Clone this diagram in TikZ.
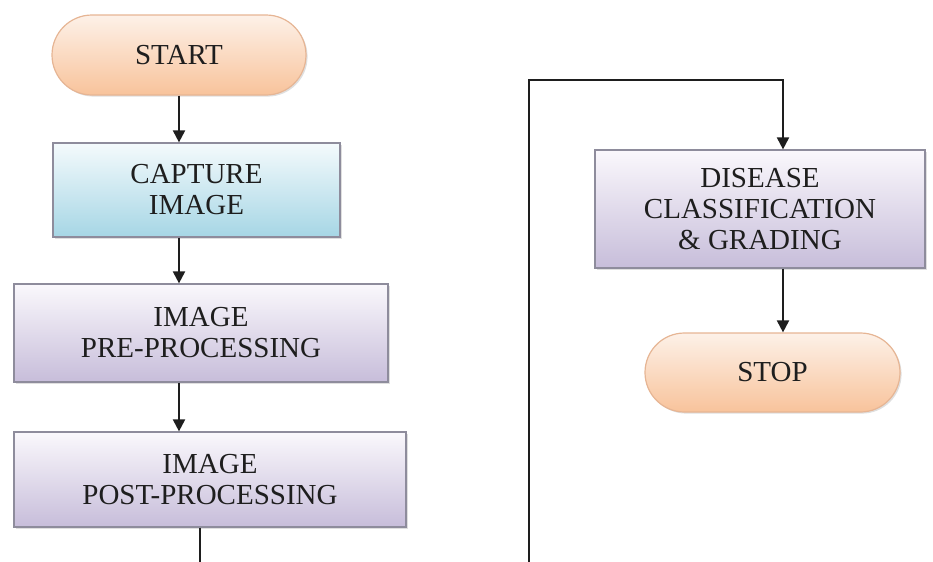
\documentclass[tikz,border=0pt]{standalone}
\usepackage{fontspec}
\setmainfont{Liberation Serif}
\usepackage{tikz}
\usetikzlibrary{arrows.meta,positioning,shapes.misc,shadows}
\definecolor{peachtop}{HTML}{FDF1E8}
\definecolor{peachbot}{HTML}{F8C39B}
\definecolor{peachline}{HTML}{E6B594}
\definecolor{icetop}{HTML}{F4FAFC}
\definecolor{icebot}{HTML}{A6D6E5}
\definecolor{lavtop}{HTML}{FAF8FC}
\definecolor{lavbot}{HTML}{C7BDDA}
\definecolor{frame}{HTML}{8E8C9C}
\definecolor{ink}{HTML}{1E1E1E}
\tikzset{
  box/.style={rectangle, draw=frame, line width=0.6pt, align=center, inner sep=0pt,
              font=\fontsize{14.5}{15.5}\selectfont, text=ink,
              drop shadow={opacity=0.25, shadow xshift=0.8pt, shadow yshift=-0.8pt}},
  termbox/.style={box, rounded rectangle, draw=peachline, top color=peachtop, bottom color=peachbot},
  capbox/.style={box, top color=icetop, bottom color=icebot},
  procbox/.style={box, top color=lavtop, bottom color=lavbot},
  flow/.style={-{Triangle[length=6pt,width=6pt]}, draw=ink, line width=1pt},
  wire/.style={draw=ink, line width=1pt}
}
\begin{document}
\begin{tikzpicture}[x=0.5pt, y=-0.5pt]
  \useasboundingbox (0,0) rectangle (933,562);
  % left column
  \node[termbox, minimum width=127pt, minimum height=40pt] (start) at (179,55) {START};
  \node[capbox, minimum width=143.5pt, minimum height=47pt] (cap) at (196.5,190) {CAPTURE\\IMAGE};
  \node[procbox, minimum width=187pt, minimum height=49pt] (pre) at (201,333) {IMAGE\\PRE-PROCESSING};
  \node[procbox, minimum width=196pt, minimum height=47.5pt] (post) at (210,479.5) {IMAGE\\POST-PROCESSING};
  % right column
  \node[procbox, minimum width=165pt, minimum height=59pt] (dis) at (760,209) {DISEASE\\CLASSIFICATION\\\& GRADING};
  \node[termbox, minimum width=127.5pt, minimum height=39.5pt] (stop) at (772.5,372.5) {STOP};
  \coordinate (outA) at (200,562);
  \coordinate (outB) at (529,562);
  \coordinate (topL) at (529,80);
  \coordinate (topR) at (783,80);
  \draw[flow] (start.south) -- (start.south |- cap.north);
  \draw[flow] (start.south |- cap.south) -- (start.south |- pre.north);
  \draw[flow] (start.south |- pre.south) -- (start.south |- post.north);
  \draw[wire] (outA |- post.south) -- (outA);
  \draw[flow] (outB) -- (topL) -- (topR) -- (topR |- dis.north);
  \draw[flow] (topR |- dis.south) -- (topR |- stop.north);
\end{tikzpicture}
\end{document}
